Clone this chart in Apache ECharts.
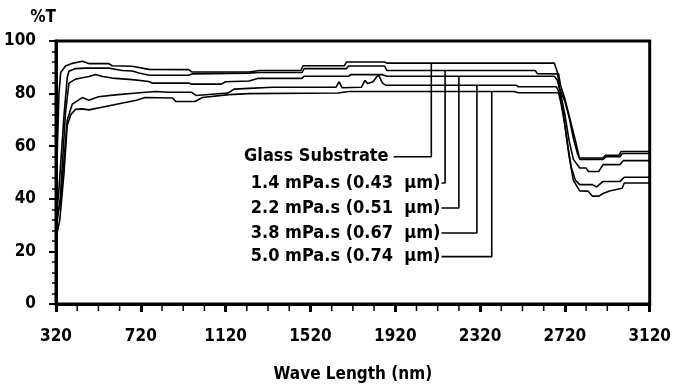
<!DOCTYPE html>
<html>
<head>
<meta charset="utf-8">
<script src="https://cdn.jsdelivr.net/npm/echarts@6/dist/echarts.min.js"></script>
<style>
  html, body { margin: 0; padding: 0; background: #fff; }
  #chart { width: 674px; height: 388px; }
</style>
</head>
<body>
<div id="chart"></div>
<script>
// Optical transmittance spectra of coated glass, [wavelength nm, %T]
const wavelengthTicks = [320, 720, 1120, 1520, 1920, 2320, 2720, 3120];
const wavelengthMinorTicks = [
  420, 520, 620, 820, 920, 1020, 1220, 1320, 1420, 1620, 1720, 1820,
  2020, 2120, 2220, 2420, 2520, 2620, 2820, 2920, 3020
];
const transmittanceTicks = [0, 20, 40, 60, 80, 100];

const seriesNames = [
  'Glass Substrate',
  '1.4 mPa.s (0.43  µm)',
  '2.2 mPa.s (0.51  µm)',
  '3.8 mPa.s (0.67  µm)',
  '5.0 mPa.s (0.74  µm)'
];

const glassSubstrate = [
  [320, 36], [326, 58], [334, 80], [342, 88], [365, 90.5], [397, 91.5], [444, 92.3],
  [475, 91.4], [569, 91.4], [585, 90.6], [679, 90.4], [758, 89.2], [946, 89.1],
  [962, 88.2], [1230, 88.2], [1280, 88.8], [1475, 88.8], [1485, 90.6], [1680, 90.6],
  [1690, 92], [1870, 92], [1880, 91.6], [2670, 91.6], [2685, 88], [2695, 82],
  [2720, 77], [2740, 71], [2760, 63], [2780, 57], [2790, 55.5], [2900, 55.5],
  [2910, 56.5], [2975, 56.5], [2985, 58], [3120, 58]
];

const film14 = [
  [320, 30], [335, 45], [358, 72], [373, 86], [381, 88.5], [412, 89.5], [460, 89.7],
  [569, 89.7], [632, 88.8], [680, 88.6], [711, 87.8], [760, 87], [946, 87],
  [962, 87.5], [1230, 87.8], [1275, 88], [1480, 88], [1490, 89.5], [1690, 89.5],
  [1700, 90.5], [1870, 90.5], [1880, 88.8], [2580, 88.8], [2590, 87.6], [2690, 87.5],
  [2700, 83], [2720, 78], [2745, 70], [2770, 62], [2790, 55], [2900, 55],
  [2915, 56], [2980, 56], [2990, 57.2], [3120, 57.2]
];

const film22 = [
  [320, 28], [340, 40], [365, 73], [381, 84], [412, 85.5], [444, 86], [475, 86.5],
  [507, 87.3], [540, 86.5], [585, 85.9], [680, 85.3], [758, 84.6], [773, 84],
  [946, 84], [960, 83.6], [1100, 83.6], [1120, 84.5], [1230, 84.8], [1275, 85.8],
  [1480, 85.8], [1490, 86.6], [1700, 86.6], [1710, 87.2], [1860, 87.2], [1880, 86.6],
  [2670, 86.6], [2685, 85], [2700, 80], [2720, 72], [2740, 62], [2760, 55],
  [2790, 51.7], [2820, 51.7], [2830, 50.4], [2880, 50.4], [2900, 53], [2980, 53],
  [2995, 54.5], [3120, 54.5]
];

const film38 = [
  [320, 33], [340, 38], [358, 55], [373, 70], [397, 76], [444, 78.5], [475, 77.5],
  [520, 78.8], [600, 79.5], [700, 80.2], [790, 80.8], [850, 80.5], [960, 80.5],
  [980, 79.3], [1130, 80.2], [1160, 81.7], [1230, 82], [1340, 82.4], [1640, 82.4],
  [1655, 84.5], [1670, 82.2], [1760, 82.4], [1777, 85], [1790, 83.8], [1815, 84.5],
  [1840, 87.2], [1860, 84], [1875, 83.2], [2490, 83.2], [2500, 82.6], [2680, 82.6],
  [2695, 80], [2710, 74], [2730, 62], [2750, 52], [2770, 47], [2790, 45.4],
  [2850, 45.4], [2870, 44.5], [2900, 46.6], [2980, 46.6], [3000, 48.2], [3120, 48.2]
];

const film50 = [
  [320, 25], [338, 32], [358, 50], [373, 68], [390, 72], [412, 74], [444, 74.2],
  [475, 73.8], [560, 75.2], [640, 76.5], [700, 77.5], [740, 78.5], [870, 78.3],
  [885, 77], [975, 77], [1010, 78.5], [1135, 79.6], [1230, 80], [1650, 80.2],
  [1700, 80.8], [2480, 80.8], [2500, 80.3], [2690, 80.3], [2700, 77], [2720, 68],
  [2740, 56], [2760, 47], [2790, 43], [2830, 42.9], [2850, 41], [2880, 41],
  [2900, 42], [2930, 43], [2990, 44], [3000, 46], [3120, 46]
];

const spectra = [glassSubstrate, film14, film22, film38, film50];

// Callout placement in axis units: where each leader's text ends,
// its horizontal level, and the wavelength at which it rises to its curve.
const calloutTextEnd = [1912, 2138, 2138, 2138, 2138];
const calloutLevel = [56, 46, 36.5, 27, 18];
const calloutColumn = [2090, 2155, 2220, 2305, 2375];

const FONT = "'DejaVu Sans Condensed', 'Liberation Sans Narrow', 'Arial Narrow', sans-serif";
const textStyle = { color: '#000', fontWeight: 'bold', fontSize: 17, fontFamily: FONT };

// Linear interpolation of a spectrum at a wavelength
function valueAt(points, w) {
  for (let i = 1; i < points.length; i++) {
    const [x0, y0] = points[i - 1];
    const [x1, y1] = points[i];
    if (w >= x0 && w <= x1) {
      return x1 === x0 ? y1 : y0 + (y1 - y0) * (w - x0) / (x1 - x0);
    }
  }
  return points[points.length - 1][1];
}

const series = [];
spectra.forEach((pts, i) => {
  series.push({
    type: 'line',
    name: seriesNames[i],
    data: pts,
    showSymbol: false,
    silent: true,
    lineStyle: { color: '#000', width: 1.6 },
    z: 3
  });
});

// Leader lines from each caption to its curve
spectra.forEach((pts, i) => {
  series.push({
    type: 'line',
    data: [
      [calloutTextEnd[i], calloutLevel[i]],
      [calloutColumn[i], calloutLevel[i]],
      [calloutColumn[i], valueAt(pts, calloutColumn[i])]
    ],
    showSymbol: false,
    silent: true,
    lineStyle: { color: '#000', width: 1.6 },
    z: 4
  });
});

// Captions
series.push({
  type: 'scatter',
  symbolSize: 0,
  silent: true,
  itemStyle: { opacity: 1, color: '#000' },
  data: seriesNames.map((name, i) => ({
    value: [calloutTextEnd[i], calloutLevel[i]],
    label: {
      show: true,
      position: 'left',
      distance: i === 0 ? 5 : 1,
      formatter: name,
      ...textStyle,
      fontSize: 18,
      opacity: 1
    }
  })),
  z: 5
});

// Light 100 nm ticks hanging below the wavelength axis
series.push({
  type: 'custom',
  silent: true,
  clip: false,
  data: wavelengthMinorTicks.map(w => [w, 0]),
  encode: { x: 0, y: 1 },
  renderItem: (params, api) => {
    const p = api.coord([api.value(0), 0]);
    return {
      type: 'line',
      shape: { x1: p[0], y1: p[1], x2: p[0], y2: p[1] + 7 },
      style: { stroke: '#000', lineWidth: 1.5 }
    };
  },
  z: 6
});

const chart = echarts.init(document.getElementById('chart'), null, { renderer: 'canvas' });
chart.setOption({
  animation: false,
  backgroundColor: '#fff',
  grid: {
    left: 56, right: 22, top: 41, bottom: 83,
    show: true, borderColor: '#000', borderWidth: 3, backgroundColor: 'transparent'
  },
  xAxis: {
    type: 'value', min: 320, max: 3120,
    name: 'Wave Length (nm)', nameLocation: 'middle', nameGap: 62,
    nameTextStyle: textStyle,
    axisLine: { show: true, lineStyle: { color: '#000', width: 3 } },
    axisTick: { show: true, customValues: wavelengthTicks, length: 8, lineStyle: { color: '#000', width: 3 } },
    axisLabel: { customValues: wavelengthTicks, margin: 24, formatter: v => String(v), ...textStyle },
    splitLine: { show: false }
  },
  yAxis: {
    type: 'value', min: 0, max: 100, interval: 20,
    name: '%T', nameLocation: 'end', nameGap: 15,
    nameTextStyle: { ...textStyle, align: 'right' },
    axisLine: { show: true, lineStyle: { color: '#000', width: 3 } },
    axisTick: { show: true, length: 7, lineStyle: { color: '#000', width: 2 } },
    minorTick: { show: true, splitNumber: 5, length: 4, lineStyle: { color: '#000', width: 1.5 } },
    axisLabel: {
      margin: 20, ...textStyle,
      formatter: v => (transmittanceTicks.includes(v) ? String(v) : '')
    },
    splitLine: { show: false }
  },
  series: series
});
</script>
</body>
</html>
